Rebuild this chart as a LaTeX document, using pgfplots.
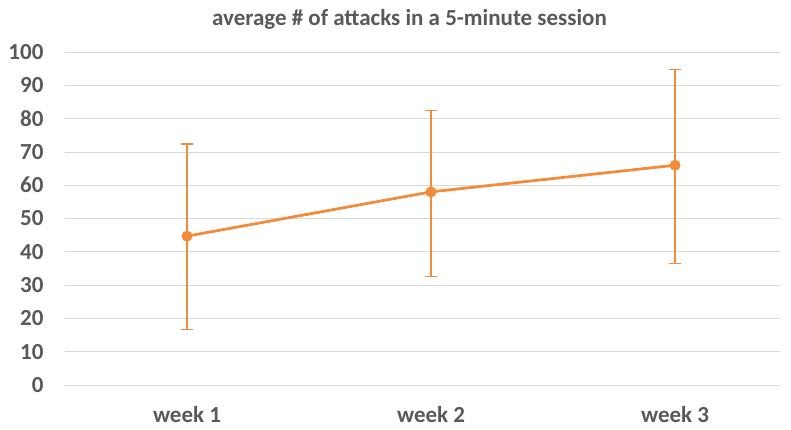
\documentclass[border=0pt]{standalone}
\usepackage{fontspec}
\setmainfont{Carlito}[Color=595959]
\usepackage{pgfplots}
\pgfplotsset{compat=1.18}
\definecolor{gridc}{HTML}{D9D9D9}
\definecolor{orgc}{HTML}{F08C3C}
\begin{document}
\begin{tikzpicture}
\path (-65pt,-44pt) rectangle (726pt,385pt);
\begin{axis}[
  scale only axis, width=715pt, height=333pt,
  xmin=0.5, xmax=3.43, ymin=0, ymax=100,
  ytick={0,10,...,100},
  xtick={1,2,3}, xticklabels={week 1,week 2,week 3},
  ymajorgrids, xmajorgrids=false,
  major grid style={draw=gridc, line width=0.8pt},
  axis line style={draw=none},
  tick style={draw=none},
  major tick length=0pt,
  tick label style={font=\fontsize{23}{26}\selectfont\bfseries},
  /pgf/number format/assume math mode=true,
  yticklabel style={anchor=east, xshift=-18pt},
  xticklabel style={anchor=base, yshift=-37pt},
  title={average \# of attacks in a 5-minute session},
  title style={font=\fontsize{23}{26}\selectfont\bfseries, anchor=base, yshift=21pt, xshift=-13pt},
  clip=false,
]
\addplot[color=orgc, line width=2.8pt, mark=*, mark size=4pt,
  mark options={color=orgc, fill=orgc},
  error bars/.cd, y dir=both, y explicit,
  error bar style={color=orgc, line width=1.4pt},
  error mark options={rotate=90, mark size=6pt, line width=1.4pt, color=orgc}]
  table[x=x, y=y, y error plus=ep, y error minus=em] {
x y ep em
1 44.7 27.7 28.0
2 58.0 24.4 25.4
3 66.0 28.7 29.6
};
\end{axis}
\end{tikzpicture}
\end{document}
